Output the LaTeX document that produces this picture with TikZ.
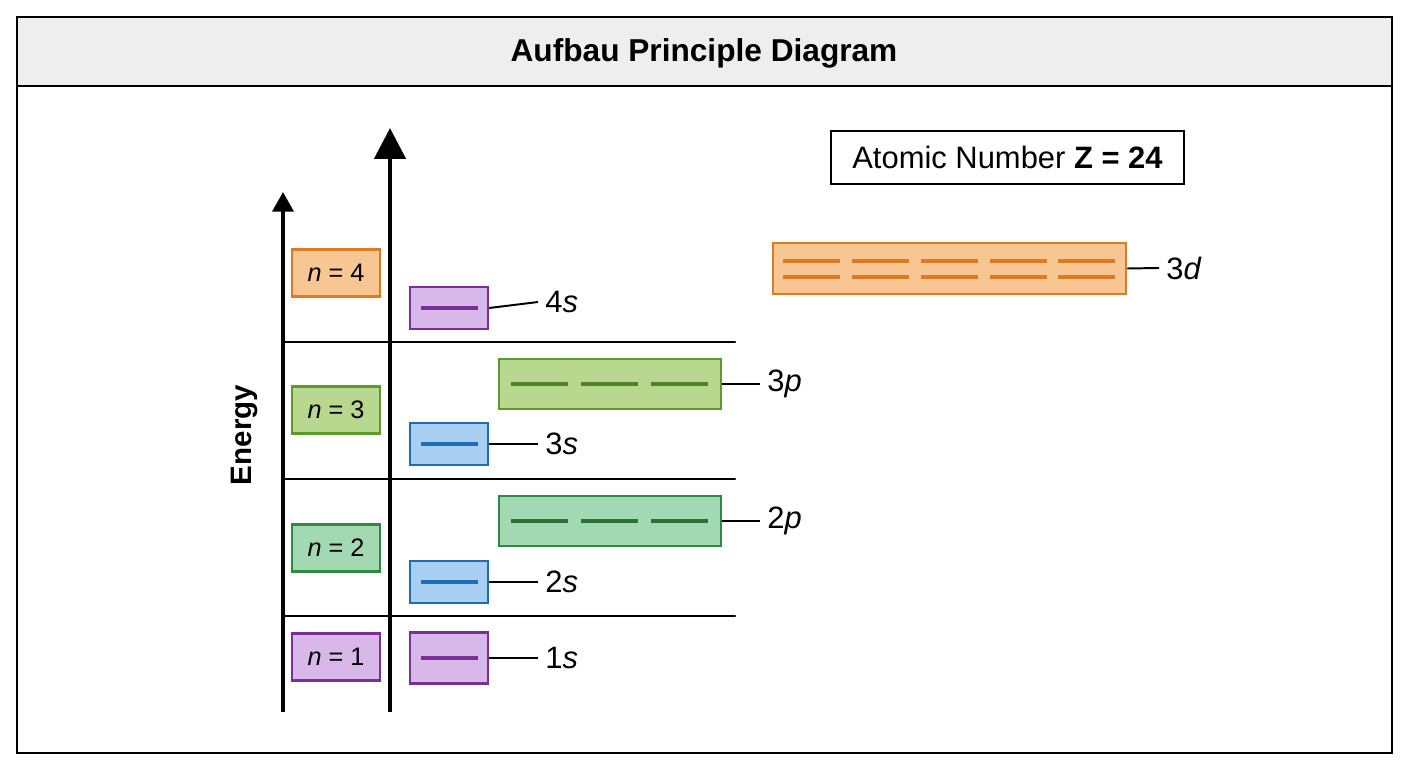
\documentclass[tikz,border=0pt]{standalone}
\usepackage{fontspec}
\setmainfont{Liberation Sans}
\usepackage{tikz}
\usetikzlibrary{arrows.meta}
\usetikzlibrary{positioning}
\definecolor{orfill}{HTML}{F8C693}
\definecolor{ordraw}{HTML}{E07A22}
\definecolor{pufill}{HTML}{D8B8E8}
\definecolor{pudraw}{HTML}{7A2E98}
\definecolor{lgfill}{HTML}{B8D890}
\definecolor{lgdraw}{HTML}{5C9A2C}
\definecolor{dgfill}{HTML}{A2D8B2}
\definecolor{dgdraw}{HTML}{2E8A40}
\definecolor{blfill}{HTML}{A9D0F2}
\definecolor{bldraw}{HTML}{1E6DB4}
\tikzset{
	nbox/.style={rectangle, draw=#1draw, fill=#1fill, line width=1.7pt, minimum width=2.2cm, minimum height=1.175cm, inner sep=0pt, font=\fontsize{18}{20}\selectfont},
	sbox/.style={rectangle, draw=#1draw, fill=#1fill, line width=1.7pt, minimum width=1.95cm, minimum height=1.05cm, inner sep=0pt},
	pbox/.style={rectangle, draw=#1draw, fill=#1fill, line width=1.7pt, minimum width=5.55cm, minimum height=1.25cm, inner sep=0pt},
	orblabel/.style={anchor=west, inner sep=5pt, font=\fontsize{22}{25}\selectfont},
	level/.style={line width=1.6pt, line cap=round},
	tick/.style={line width=1.4pt},
	oline/.style={line width=2.4pt}
}
\begin{document}
\begin{tikzpicture}[x=0.025cm, y=-0.025cm]
		\useasboundingbox (0,0) rectangle (1408,768);
		% frame and title band
		\fill[gray!13] (17,17) rectangle (1392,86);
		\draw[line width=1.6pt] (17,17) rectangle (1392,753);
		\draw[line width=1.6pt] (17,86) -- (1392,86);
		\node[font=\fontsize{22.5}{26}\selectfont\bfseries] at (704,53) (title) {Aufbau Principle Diagram};
		
		%axes
		\coordinate (a1) at (283,712);
		\coordinate (a1t) at (283,192);
		\coordinate (a2) at (390,712);
		\coordinate (a2t) at (390,128);
		\draw[-{Triangle[length=14pt,width=15pt]}, line width=2.4pt] (a1) -- (a1t);
		\draw[-{Triangle[length=22pt,width=22pt]}, line width=3.4pt] (a2) -- (a2t);
		\node[rotate=90, font=\fontsize{21}{24}\selectfont\bfseries] at (244,435) (E) {Energy};
		
		%shell separators
		\coordinate (h3l) at (283,342); \coordinate (h3r) at (735,342);
		\coordinate (h2l) at (283,479); \coordinate (h2r) at (735,479);
		\coordinate (h1l) at (283,616); \coordinate (h1r) at (735,616);
		\draw[level] (h3l) -- (h3r);
		\draw[level] (h2l) -- (h2r);
		\draw[level] (h1l) -- (h1r);
		
		%shells
		\node[nbox=or] at (336,273) (n4) {\textit{n} = 4};
		\node[nbox=lg] at (336,410) (n3) {\textit{n} = 3};
		\node[nbox=dg] at (336,548) (n2) {\textit{n} = 2};
		\node[nbox=pu] at (336,657) (n1) {\textit{n} = 1};
		
		%s orbitals
		\node[sbox=pu] at (449,308) (s4) {};
		\node[sbox=bl] at (449,444) (s3) {};
		\node[sbox=bl] at (449,582) (s2) {};
		\node[sbox=pu, minimum height=1.275cm] at (449,658) (s1) {};
		\draw[oline, pudraw] (421,308) -- (478,308);
		\draw[oline, bldraw] (421,444) -- (478,444);
		\draw[oline, bldraw] (421,582) -- (478,582);
		\draw[oline, pudraw] (421,658) -- (478,658);
		
		%p orbitals
		\node[pbox=lg] at (610,384) (p3) {};
		\node[pbox=dg] at (610,521) (p2) {};
		\foreach \x in {511,581,651} {
			\draw[oline, lgdraw!85!black] (\x,384) -- (\x+57,384);
			\draw[oline, dgdraw!85!black] (\x,521) -- (\x+57,521);
		}
		
		%3d
		\node[pbox=or, minimum width=8.825cm, minimum height=1.275cm] at (949.5,268.5) (d3) {};
		\foreach \x in {783,852,921,990,1058} {
			\draw[oline, ordraw] (\x,261) -- (\x+57,261);
			\draw[oline, ordraw] (\x,277) -- (\x+57,277);
		}
		
		%labels
		\node[orblabel] at (538,302) (l4s) {4\textit{s}};
		\node[orblabel] at (538,444) (l3s) {3\textit{s}};
		\node[orblabel] at (538,582) (l2s) {2\textit{s}};
		\node[orblabel] at (538,658) (l1s) {1\textit{s}};
		\node[orblabel] at (760,384) (l3p) {3\textit{p}};
		\node[orblabel] at (760,521) (l2p) {2\textit{p}};
		\node[orblabel] at (1159,268) (l3d) {3\textit{d}};
		\draw[tick] (s4.east) -- (l4s.west);
		\draw[tick] (s3.east) -- (l3s.west);
		\draw[tick] (s2.east) -- (l2s.west);
		\draw[tick] (s1.east) -- (l1s.west);
		\draw[tick] (p3.east) -- (l3p.west);
		\draw[tick] (p2.east) -- (l2p.west);
		\draw[tick] (d3.east) -- (l3d.west);
		
		\node[draw, line width=1.2pt, minimum width=8.825cm, minimum height=1.325cm, font=\fontsize{22}{26}\selectfont] at (1007.5,157.5) (Z) {Atomic Number \textbf{Z = 24}};
	\end{tikzpicture}
\end{document}
